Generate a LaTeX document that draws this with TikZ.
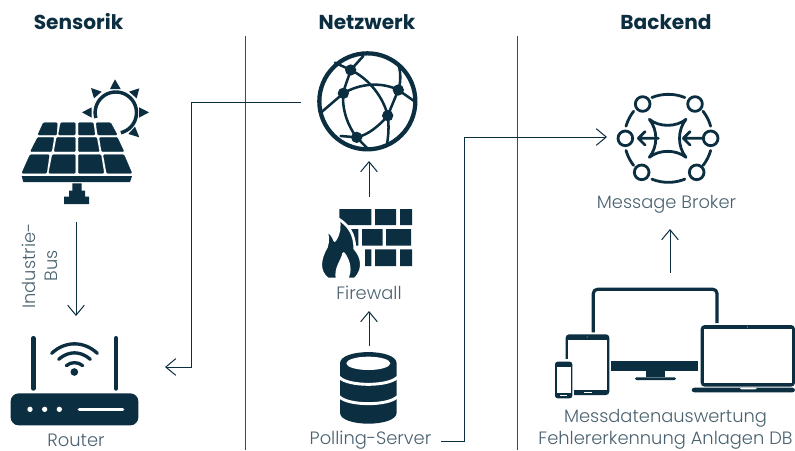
\documentclass[tikz,border=0pt]{standalone}
\usepackage{fontspec}
\setmainfont{Poppins}
\newfontfamily\labfont{Poppins Light}
\usetikzlibrary{arrows.meta}
\definecolor{ink}{HTML}{0B2E40}
\definecolor{txt}{HTML}{4A626F}
\definecolor{wire}{HTML}{34505F}
\tikzset{
  x=0.75pt,y=-0.75pt,
  head/.style={font=\fontsize{15.1}{18}\selectfont\bfseries,text=ink,inner sep=0pt,anchor=center},
  lab/.style={font=\labfont\fontsize{13.4}{16.5}\selectfont,text=txt,inner sep=0pt,anchor=center,align=center},
  divider/.style={draw=wire,line width=0.75pt},
  link/.style={draw=ink,line width=0.75pt,-{Straight Barb[length=7.5pt,width=12.5pt,line width=0.75pt]}},
  icon/.style={fill=ink,draw=none},
  cell/.style={fill=ink,draw=ink,line width=0.2pt,rounded corners=0.8pt},
  stroke/.style={draw=ink,line cap=round,line join=round},
  white stroke/.style={draw=white,line cap=round},
}
\begin{document}
\begin{tikzpicture}
\useasboundingbox (0,0) rectangle (795,450);
% headings
\node[head] (hS) at (78.5,22) {Sensorik};
\node[head] (hN) at (367,22) {Netzwerk};
\node[head] (hB) at (666,22) {Backend};
% dividers
\coordinate (d1a) at (245,36); \coordinate (d1b) at (245,450);
\coordinate (d2a) at (517,36); \coordinate (d2b) at (517,450);
\draw[divider] (d1a) -- (d1b);
\draw[divider] (d2a) -- (d2b);

% solar
\begin{scope}[shift={(0,60)},scale=1/3]
\foreach \p in {
 {(130,188)--(172,188)--(170,225)--(113,225)},
 {(182,188)--(226,188)--(226,225)--(175,225)},
 {(235,188)--(280,188)--(285,225)--(235,225)},
 {(288,188)--(332,188)--(352,225)--(293,225)},
 {(113,232)--(162,232)--(155,275)--(91,275)},
 {(170,232)--(226,232)--(226,275)--(162,275)},
 {(235,232)--(290,232)--(298,275)--(235,275)},
 {(298,232)--(352,232)--(372,275)--(305,275)},
 {(90,284)--(148,284)--(140,340)--(65,340)},
 {(157,284)--(226,284)--(226,340)--(146,340)},
 {(235,284)--(303,284)--(312,340)--(235,340)},
 {(310,284)--(372,284)--(396,340)--(320,340)}}
 {\expandafter\fill\expandafter[\expandafter c\expandafter e\expandafter l\expandafter l\expandafter]\p--cycle;}
\fill[icon] (65,348)--(396,348)--(390,366)--(70,366)--cycle;
\fill[icon] (217,370)--(245,370)--(245,392)--(255,392)--(255,410)--(267,410)--(267,432)--(192,432)--(192,410)--(207,410)--(207,392)--(217,392)--cycle;
\draw[stroke,line width=2.6pt,line cap=butt] plot[domain=165:436,samples=60,smooth] ({347.5+62*cos(\x)},{158+62*sin(\x)});
\fill[icon] (345,58)--(330,87)--(362,87)--cycle;
\fill[icon] (418,85)--(387,95)--(410,115)--cycle;
\fill[icon] (447,157)--(417,142)--(417,173)--cycle;
\fill[icon] (418,232)--(385,222)--(405,200)--cycle;
\fill[icon] (246,157)--(275,142)--(275,173)--cycle;
\fill[icon] (273,84)--(305,95)--(282,115)--cycle;
\end{scope}

% industrie bus
\node[lab,rotate=90] (bus) at (40,266) {Industrie-\\Bus};
\coordinate (busA) at (76,222);
\coordinate (busB) at (76,316);
\draw[link] (busA) -- (busB);

% router
\begin{scope}[shift={(0,320)},scale=1/3]
\draw[stroke,line width=3.6pt] (100,55)--(100,205);
\draw[stroke,line width=3.6pt] (348,55)--(348,205);
\fill[icon,rounded corners=6pt] (32,220) rectangle (415,316);
\fill[white] (90,268) circle (8) (134,268) circle (8) (178,268) circle (8);
\draw[white stroke,line width=2.6pt] (238,268)--(368,268);
\fill[icon] (223,156) circle (11.5);
\draw[stroke,line width=2.5pt] (155,100) .. controls (195,62) and (252,62) .. (292,100);
\draw[stroke,line width=2.5pt] (176,118) .. controls (205,92) and (242,92) .. (271,118);
\draw[stroke,line width=2.5pt] (199,137) .. controls (212,125) and (235,125) .. (248,137);
\end{scope}
\node[lab] (router) at (76,440) {Router};

% globe
\begin{scope}[shift={(300,60)},scale=1/3]
\draw[ink,line width=3.2pt] (202,124) circle (144);
\begin{scope}[stroke,line width=1.9pt]
\draw (130,100) .. controls (135,75) and (145,55) .. (152,30);
\draw (152,30) .. controls (205,55) and (250,110) .. (263,167);
\draw (130,100) .. controls (180,70) and (245,65) .. (295,90);
\draw (130,100) .. controls (125,150) and (145,200) .. (170,232);
\draw (170,232) .. controls (205,225) and (240,195) .. (263,167);
\draw (295,90) -- (263,167);
\draw (130,100) -- (66,155);
\draw (152,30) -- (105,8);
\draw (152,30) -- (190,-12);
\draw (295,90) -- (345,125);
\draw (295,90) .. controls (305,60) and (300,30) .. (296,15);
\draw (263,167) .. controls (268,200) and (265,230) .. (260,258);
\draw (170,232) -- (122,228);
\draw (170,232) -- (205,268);
\end{scope}
\fill[ink] (152,30) circle (17) (130,100) circle (17) (295,90) circle (17) (263,167) circle (17) (170,232) circle (17);
\end{scope}
\coordinate (globeL) at (301,102);
\coordinate (routerR) at (165,367);
\draw[link] (globeL) -- (191,102) -- (191,367) -- (routerR);
\coordinate (fwT) at (369,197);
\coordinate (globeB) at (369,161);
\draw[link] (fwT) -- (globeB);

% firewall
\begin{scope}[shift={(300,190)},scale=1/3]
\fill[icon] (118,57) rectangle (214,105) (225,57) rectangle (288,105) (300,57) rectangle (336,105);
\fill[icon] (148,117) rectangle (175,167) (186,117) rectangle (248,167) (258,117) rectangle (333,167);
\fill[icon] (195,178) rectangle (214,228) (225,178) rectangle (288,228) (300,178) rectangle (336,228);
\end{scope}
\begin{scope}[shift={(313,205)},xscale=1.12/3,yscale=0.97/3]
\fill[icon,draw=white,line width=2pt,line join=round]
 (67,42) .. controls (95,62) and (112,90) .. (112,135)
 .. controls (128,155) and (142,195) .. (112,229)
 -- (90,229) .. controls (102,205) and (98,175) .. (82,150)
 .. controls (78,175) and (58,195) .. (65,229)
 -- (40,229) .. controls (12,205) and (18,165) .. (36,130)
 .. controls (42,110) and (40,90) .. (33,75)
 .. controls (46,83) and (55,97) .. (58,110)
 .. controls (70,90) and (74,65) .. (67,42) -- cycle;
\end{scope}
\node[lab] (fw) at (369,293) {Firewall};
\coordinate (dbT) at (369,346);
\coordinate (fwB) at (369,311);
\draw[link] (dbT) -- (fwB);

% database
\begin{scope}[shift={(300,340)},scale=1/3]
\fill[icon] (120,70) .. controls (120,25) and (290,25) .. (290,70) -- (290,218)
 .. controls (290,262) and (120,262) .. (120,218) -- cycle;
\fill[white] (205,70) ellipse (66 and 20);
\draw[draw=white,line width=2.2pt] (118,112) .. controls (145,140) and (265,140) .. (292,112);
\draw[draw=white,line width=2.2pt] (118,170) .. controls (145,198) and (265,198) .. (292,170);
\end{scope}
\node[lab] (poll) at (370.5,440) {Polling-Server};
\coordinate (pollR) at (441,441.5);
\coordinate (brokerL) at (607,137);
\draw[link] (pollR) -- (464,441.5) -- (464,137) -- (brokerL);

% broker
\begin{scope}[shift={(590,80)},scale=1/3]
\begin{scope}[stroke,line width=2.1pt,line cap=round]
\foreach \a/\b in {248/292,322/344,16/38,68/112,142/164,196/218}
  \draw plot[domain=\a:\b,samples=16,smooth] ({235+132*cos(\x)},{175+132*sin(\x)});
\draw (158,72) circle (22) (315,72) circle (22) (106,175) circle (22) (362,175) circle (22) (155,277) circle (22) (320,277) circle (22);
\draw (178,118) .. controls (208,142) and (258,142) .. (288,118)
 .. controls (262,150) and (262,200) .. (288,232)
 .. controls (258,208) and (208,208) .. (178,232)
 .. controls (204,200) and (204,150) .. (178,118);
\draw (205,175) -- (145,175) (165,155) -- (145,175) -- (165,195);
\draw (340,175) -- (280,175) (300,155) -- (280,175) -- (300,195);
\end{scope}
\end{scope}
\node[lab] (broker) at (666.5,204) {Message Broker};
\coordinate (devT) at (670,273);
\coordinate (brokerB) at (670,229);
\draw[link] (devT) -- (brokerB);

% devices
\begin{scope}[shift={(540,280)},scale=1/3]
\draw[ink,line width=2.4pt,line cap=butt,line join=round,rounded corners=3pt] (160,157) -- (160,28) -- (531,28) -- (531,129);
\fill[icon] (214,243) rectangle (475,274);
\fill[icon] (318,274) rectangle (376,292);
\fill[icon,rounded corners=1pt] (285,292) rectangle (408,300);
% tablet
\fill[icon,rounded corners=2.5pt] (77,163) rectangle (208,345);
\fill[white] (85,179) rectangle (200,330);
\fill[white] (131,336) rectangle (155,339);
\fill[white] (141,171) circle (1.5);
% phone
\fill[white] (38,238) rectangle (103,350);
\fill[white] (38,238) rectangle (90,360);
\fill[icon,rounded corners=2pt] (45,245) rectangle (97,355);
\fill[white] (50,262) rectangle (92,340);
\fill[white] (60,345) rectangle (82,348);
% laptop
\fill[icon,rounded corners=3pt] (482,135) rectangle (765,320);
\fill[white] (493,147) rectangle (755,310);
\fill[white] (623,141) circle (1.5);
\fill[icon,rounded corners=2pt] (455,323) rectangle (765,337);
\fill[white,rounded corners=1pt] (600,323) rectangle (650,328);
\end{scope}
\node[lab] (mess) at (665.5,418.5) {Messdatenauswertung};
\node[lab] (fehl) at (665.5,440) {Fehlererkennung Anlagen DB};
\end{tikzpicture}
\end{document}
